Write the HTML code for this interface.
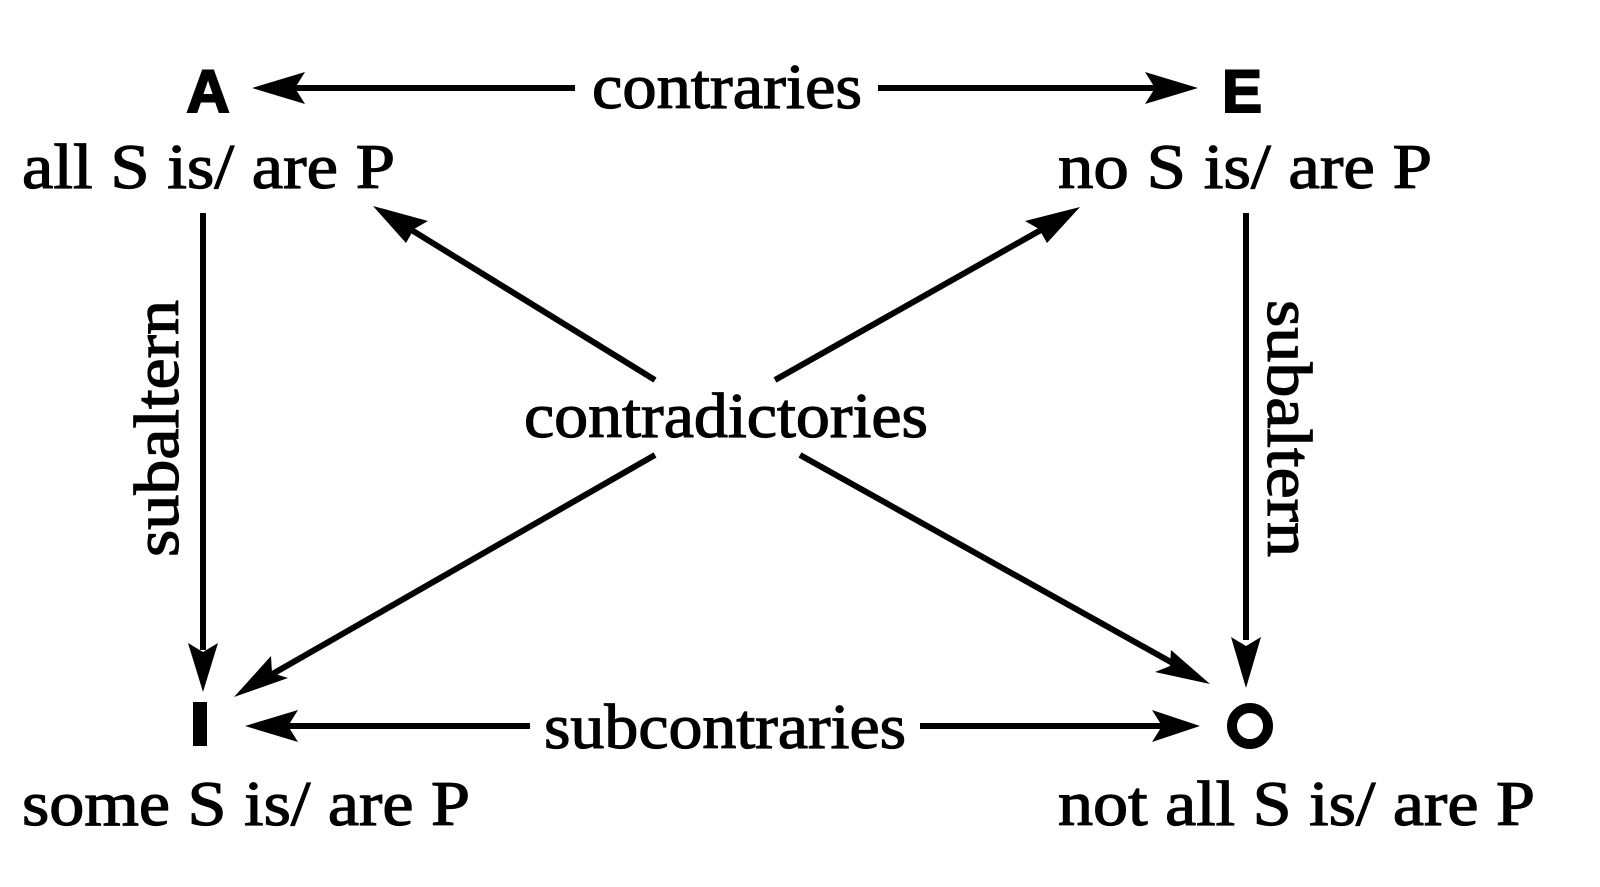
<!DOCTYPE html>
<html><head><meta charset="utf-8"><style>
html,body{margin:0;padding:0;background:#fff;}
svg{display:block;}
.t{font-family:"Liberation Serif",serif;font-size:64px;fill:#000;stroke:#000;stroke-width:1.2px;}
.b{font-family:"Liberation Sans",sans-serif;font-weight:bold;font-size:60px;fill:#000;stroke:#000;stroke-width:2px;}
</style></head><body>
<svg width="1600" height="887" viewBox="0 0 1600 887" xmlns="http://www.w3.org/2000/svg">
<g stroke="#000" stroke-width="6" fill="none">
<line x1="290" y1="88" x2="575" y2="88"/>
<line x1="878" y1="88" x2="1160" y2="88"/>
<line x1="203" y1="213" x2="203" y2="650"/>
<line x1="1246" y1="213" x2="1246" y2="640"/>
<line x1="655" y1="380" x2="405" y2="226"/>
<line x1="775" y1="380" x2="1048" y2="226"/>
<line x1="655" y1="455" x2="262" y2="680"/>
<line x1="800" y1="455" x2="1178" y2="666"/>
<line x1="280" y1="726" x2="530" y2="726"/>
<line x1="920" y1="726" x2="1170" y2="726"/>
</g>
<g fill="#000">
<polygon points="252,88 305,72 295,88 305,104"/>
<polygon points="1198,88 1145,72 1155,88 1145,104"/>
<polygon points="203,692 188,643 203,652 218,643"/>
<polygon points="1246,688 1231,637 1246,646 1261,637"/>
<polygon points="373,206 428,221 414,229 406,243"/>
<polygon points="1080,207 1025,221 1039,229 1047,243"/>
<polygon points="234,697 271,656 272,673 288,678"/>
<polygon points="1210,684 1155,672 1170,666 1171,650"/>
<polygon points="245,726 298,710 288,726 298,742"/>
<polygon points="1200,726 1152,710 1162,726 1152,742"/>
</g>
<text class="b" x="208" y="112" text-anchor="middle">A</text>
<text class="b" x="1242" y="112" text-anchor="middle">E</text>
<rect x="193" y="702" width="14" height="44" fill="#000"/>
<circle cx="1250" cy="726" r="18" fill="none" stroke="#000" stroke-width="10"/>
<text class="t" x="592" y="108" textLength="270" lengthAdjust="spacingAndGlyphs">contraries</text>
<text class="t" x="22" y="188" textLength="373" lengthAdjust="spacingAndGlyphs">all S is/ are P</text>
<text class="t" x="1058" y="188" textLength="374" lengthAdjust="spacingAndGlyphs">no S is/ are P</text>
<text class="t" x="524" y="437" textLength="404" lengthAdjust="spacingAndGlyphs">contradictories</text>
<text class="t" x="544" y="748" textLength="362" lengthAdjust="spacingAndGlyphs">subcontraries</text>
<text class="t" x="22" y="825" textLength="448" lengthAdjust="spacingAndGlyphs">some S is/ are P</text>
<text class="t" x="1058" y="825" textLength="477" lengthAdjust="spacingAndGlyphs">not all S is/ are P</text>
<text class="t" transform="translate(178,557) rotate(-90)" textLength="257" lengthAdjust="spacingAndGlyphs">subaltern</text>
<text class="t" transform="translate(1268,300) rotate(90)" textLength="257" lengthAdjust="spacingAndGlyphs">subaltern</text>
</svg>
</body></html>
